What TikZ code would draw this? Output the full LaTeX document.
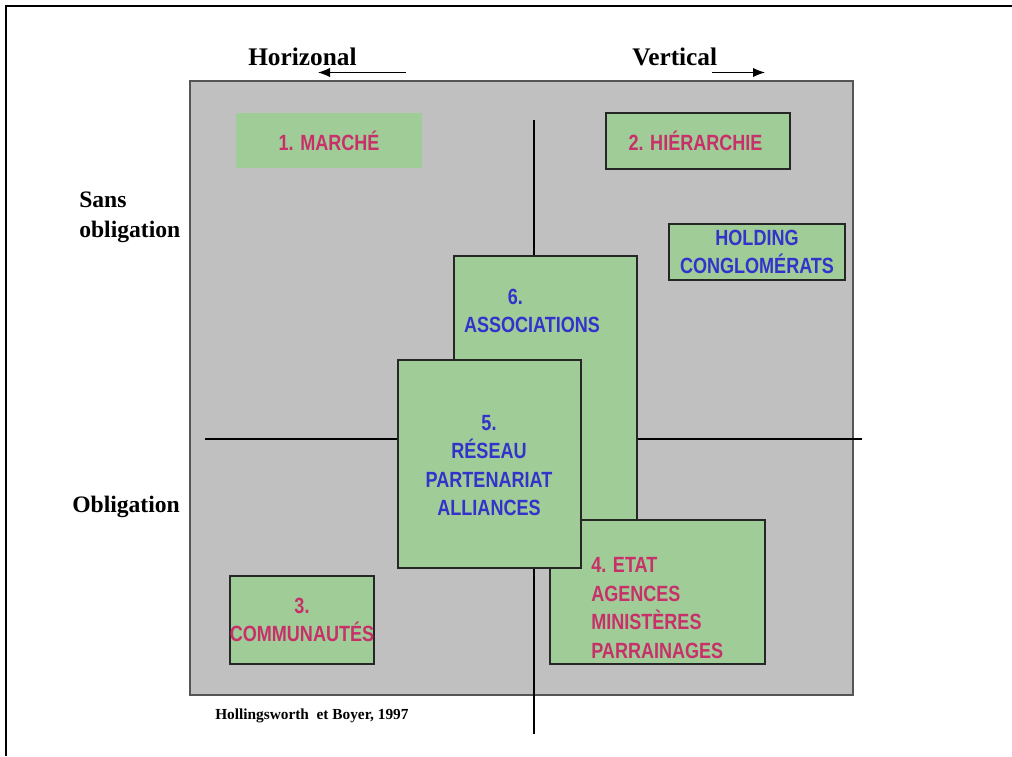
\documentclass[tikz,border=0pt]{standalone}
\usepackage{fontspec}
\setmainfont{Liberation Serif}
\newfontfamily\narrowbold[FakeStretch=0.82]{Liberation Sans Bold}
\usetikzlibrary{arrows.meta}
\definecolor{panelgray}{HTML}{C0C0C0}
\definecolor{paneledge}{HTML}{555555}
\definecolor{boxgreen}{HTML}{A0CC98}
\definecolor{pinktxt}{HTML}{C8306A}
\definecolor{bluetxt}{HTML}{3333CC}
\tikzset{
  x=0.75pt, y=-0.75pt,
  gbox/.style={draw=black!85, line width=0.8pt, fill=boxgreen},
  gboxplain/.style={fill=boxgreen},
  pinklbl/.style={text=pinktxt, font=\narrowbold\fontsize{16.5}{21.4}\selectfont, align=center, inner sep=0pt},
  bluelbl/.style={text=bluetxt, font=\narrowbold\fontsize{16.5}{21.4}\selectfont, align=center, inner sep=0pt},
  axislbl/.style={font=\bfseries\fontsize{17.7}{22.5}\selectfont, inner sep=0pt},
  headlbl/.style={font=\bfseries\fontsize{19}{22}\selectfont, inner sep=0pt},
  axisline/.style={draw=black, line width=0.9pt},
  headarrow/.style={draw=black, line width=0.8pt, -{Latex[length=9pt,width=7pt]}}
}
\begin{document}
\begin{tikzpicture}
\useasboundingbox (0,0) rectangle (1012,756);
\fill[white] (0,0) rectangle (1012,756);
% outer frame (only top and left visible)
\draw[line width=1.8pt] (1012,6) -- (6,6) -- (6,756);
% gray panel
\draw[fill=panelgray, draw=paneledge, line width=1.3pt] (190,81) rectangle (853,695);
% axes
\coordinate (vtop) at (534,120);
\coordinate (vbot) at (534,734);
\coordinate (hleft) at (205,439);
\coordinate (hright) at (862,439);
\draw[axisline] (vtop) -- (vbot);
\draw[axisline] (hleft) -- (hright);
% headers
\node[headlbl, anchor=base west] (horiz) at (248,66) {Horizonal};
\node[headlbl, anchor=base west] (vert) at (632,66) {Vertical};
\coordinate (ha1) at (406,72.5);
\coordinate (ha2) at (318,72.5);
\coordinate (va1) at (712,72.5);
\coordinate (va2) at (765,72.5);
\draw[headarrow] (ha1) -- (ha2);
\draw[headarrow] (va1) -- (va2);
% side labels
\node[axislbl, anchor=west, align=left] (sans) at (79,217) {Sans\\obligation};
\node[axislbl, anchor=west] (oblig) at (72,507) {Obligation};
% boxes
\node[gboxplain, minimum width=186*0.75pt, minimum height=55*0.75pt, inner sep=0pt] (b1) at (329,140.5) {};
\node[pinklbl] at (b1.center) {1. MARCHÉ};
\node[gbox, minimum width=184*0.75pt, minimum height=56*0.75pt, inner sep=0pt] (b2) at (698,141) {};
\node[pinklbl] at (695.5,141) {2. HIÉRARCHIE};
\node[gbox, minimum width=176*0.75pt, minimum height=56*0.75pt, inner sep=0pt] (bh) at (757,252) {};
\node[bluelbl] at (bh.center) {HOLDING\\CONGLOMÉRATS};
\node[gbox, minimum width=183*0.75pt, minimum height=264*0.75pt, inner sep=0pt] (b6) at (545.5,388) {};
\node[bluelbl] (t6) at (532,311) {6.\hspace*{25pt}\\ASSOCIATIONS};
\node[gbox, minimum width=215*0.75pt, minimum height=144*0.75pt, inner sep=0pt] (b4) at (657.5,592) {};
\node[pinklbl, align=left, anchor=west] (t4) at (591,608) {4. ETAT\\AGENCES\\MINISTÈRES\\PARRAINAGES};
\node[gbox, minimum width=183*0.75pt, minimum height=208*0.75pt, inner sep=0pt] (b5) at (489.5,464) {};
\node[bluelbl] (t5) at (489,465.5) {5.\\RÉSEAU\\PARTENARIAT\\ALLIANCES};
\node[gbox, minimum width=144*0.75pt, minimum height=88*0.75pt, inner sep=0pt] (b3) at (302,620) {};
\node[pinklbl] (t3) at (302,620) {3.\\COMMUNAUTÉS};
% source
\node[font=\bfseries\fontsize{11.5}{13}\selectfont, anchor=base west, inner sep=0pt] (src) at (215,719) {Hollingsworth\ \ et Boyer, 1997};
\end{tikzpicture}
\end{document}
